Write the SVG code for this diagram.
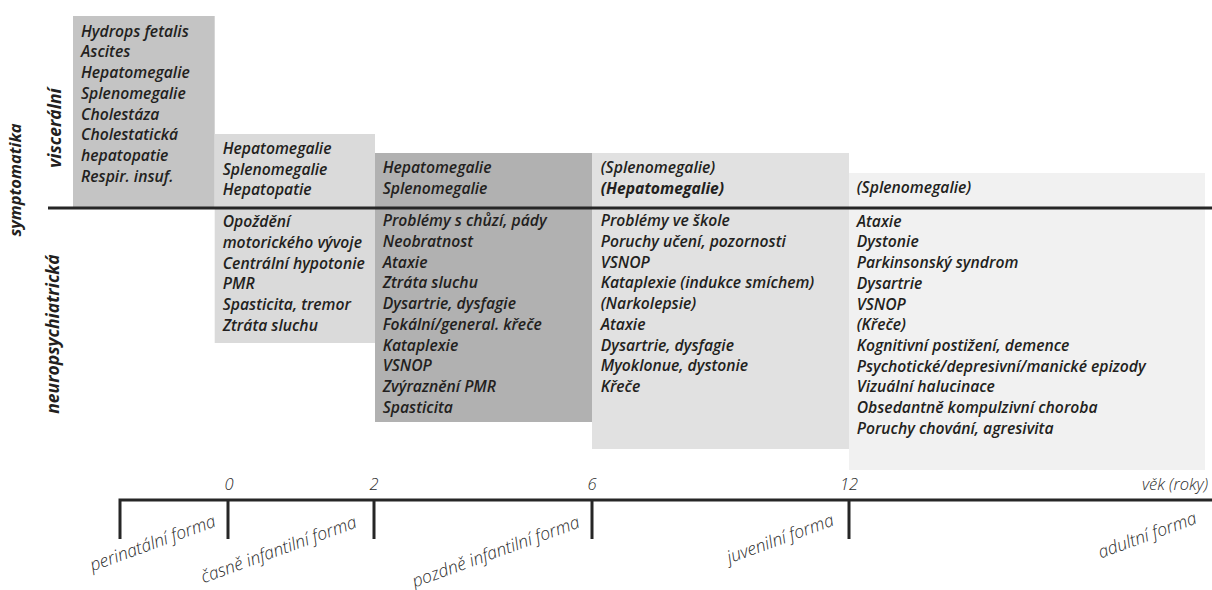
<svg xmlns="http://www.w3.org/2000/svg" width="1212" height="590" viewBox="0 0 1212 590">
<style>
.t{font-family:"Open Sans","Noto Sans","Liberation Sans",sans-serif;font-style:italic;font-weight:600;font-size:15.7px;fill:#231f20}
.b{font-weight:700}
.lab{font-family:"Open Sans","Noto Sans","Liberation Sans",sans-serif;font-style:italic;font-weight:700;font-size:17.5px;fill:#231f20}
.ax{font-family:"Open Sans","Noto Sans","Liberation Sans",sans-serif;font-style:italic;font-weight:300;font-size:16.5px;fill:#2b2b2b}
.fm{font-size:17.5px}
.ln{fill:none;stroke:#262626;stroke-width:3}
</style>
<rect width="1212" height="590" fill="#ffffff"/>
<g id="perinatal">
<rect x="73" y="16" width="141.7" height="192" fill="#c4c4c4"/>
<text class="t" x="81" y="36.7"><tspan x="81">Hydrops fetalis</tspan><tspan x="81" dy="20.7">Ascites</tspan><tspan x="81" dy="20.7">Hepatomegalie</tspan><tspan x="81" dy="20.7">Splenomegalie</tspan><tspan x="81" dy="20.7">Cholestáza</tspan><tspan x="81" dy="20.7">Cholestatická</tspan><tspan x="81" dy="20.7">hepatopatie</tspan><tspan x="81" dy="20.7">Respir. insuf.</tspan></text>
</g>
<g id="early-infantile">
<rect x="214.7" y="134" width="160.3" height="209" fill="#dadada"/>
<text class="t" x="222.7" y="154"><tspan x="222.7">Hepatomegalie</tspan><tspan x="222.7" dy="20.7">Splenomegalie</tspan><tspan x="222.7" dy="20.7">Hepatopatie</tspan></text>
<text class="t" x="222.7" y="227.3"><tspan x="222.7">Opoždění</tspan><tspan x="222.7" dy="20.7">motorického vývoje</tspan><tspan x="222.7" dy="20.7">Centrální hypotonie</tspan><tspan x="222.7" dy="20.7">PMR</tspan><tspan x="222.7" dy="20.7">Spasticita, tremor</tspan><tspan x="222.7" dy="20.7">Ztráta sluchu</tspan></text>
</g>
<g id="late-infantile">
<rect x="375" y="153" width="217" height="269" fill="#b1b1b1"/>
<text class="t" x="382.7" y="173.3"><tspan x="382.7">Hepatomegalie</tspan><tspan x="382.7" dy="20.7">Splenomegalie</tspan></text>
<text class="t" x="382.7" y="226.3"><tspan x="382.7">Problémy s chůzí, pády</tspan><tspan x="382.7" dy="20.7">Neobratnost</tspan><tspan x="382.7" dy="20.7">Ataxie</tspan><tspan x="382.7" dy="20.7">Ztráta sluchu</tspan><tspan x="382.7" dy="20.7">Dysartrie, dysfagie</tspan><tspan x="382.7" dy="20.7">Fokální/general. křeče</tspan><tspan x="382.7" dy="20.7">Kataplexie</tspan><tspan x="382.7" dy="20.7">VSNOP</tspan><tspan x="382.7" dy="20.7">Zvýraznění PMR</tspan><tspan x="382.7" dy="20.7">Spasticita</tspan></text>
</g>
<g id="juvenile">
<rect x="592" y="153" width="257" height="296" fill="#e1e1e1"/>
<text class="t" x="600.7" y="173.3"><tspan x="600.7">(Splenomegalie)</tspan><tspan class="b" x="600.7" dy="20.7">(Hepatomegalie)</tspan></text>
<text class="t" x="600.7" y="226.3"><tspan x="600.7">Problémy ve škole</tspan><tspan x="600.7" dy="20.7">Poruchy učení, pozornosti</tspan><tspan x="600.7" dy="20.7">VSNOP</tspan><tspan x="600.7" dy="20.7">Kataplexie (indukce smíchem)</tspan><tspan x="600.7" dy="20.7">(Narkolepsie)</tspan><tspan x="600.7" dy="20.7">Ataxie</tspan><tspan x="600.7" dy="20.7">Dysartrie, dysfagie</tspan><tspan x="600.7" dy="20.7">Myoklonue, dystonie</tspan><tspan x="600.7" dy="20.7">Křeče</tspan></text>
</g>
<g id="adult">
<rect x="849" y="173" width="356" height="297" fill="#f1f1f1"/>
<text class="t" x="856.7" y="193"><tspan x="856.7">(Splenomegalie)</tspan></text>
<text class="t" x="856.7" y="226.7"><tspan x="856.7">Ataxie</tspan><tspan x="856.7" dy="20.7">Dystonie</tspan><tspan x="856.7" dy="20.7">Parkinsonský syndrom</tspan><tspan x="856.7" dy="20.7">Dysartrie</tspan><tspan x="856.7" dy="20.7">VSNOP</tspan><tspan x="856.7" dy="20.7">(Křeče)</tspan><tspan x="856.7" dy="20.7">Kognitivní postižení, demence</tspan><tspan x="856.7" dy="20.7">Psychotické/depresivní/manické epizody</tspan><tspan x="856.7" dy="20.7">Vizuální halucinace</tspan><tspan x="856.7" dy="20.7">Obsedantně kompulzivní choroba</tspan><tspan x="856.7" dy="20.7">Poruchy chování, agresivita</tspan></text>
</g>
<g id="connectors">
<line class="ln" x1="48" y1="208" x2="1212" y2="208" stroke-width="2.6"/>
<path class="ln" d="M120,539 V500 H1212"/>
<path class="ln" d="M228,500 V539 M374,500 V539 M592,500 V539 M849,500 V539"/>
</g>
<g id="side-labels">
<text class="lab" text-anchor="middle" transform="translate(21,180) rotate(-90)" style="font-size:16.5px">symptomatika</text>
<text class="lab" text-anchor="middle" transform="translate(61,128) rotate(-90)">viscerální</text>
<text class="lab" text-anchor="middle" transform="translate(59,334) rotate(-90)">neuropsychiatrická</text>
</g>
<g id="axis-labels">
<text class="ax" x="229" y="490" text-anchor="middle">0</text>
<text class="ax" x="374" y="490" text-anchor="middle">2</text>
<text class="ax" x="592" y="490" text-anchor="middle">6</text>
<text class="ax" x="849" y="490" text-anchor="middle">12</text>
<text class="ax" x="1208" y="490" text-anchor="end">věk (roky)</text>
<text class="ax fm" text-anchor="end" transform="translate(217,526) rotate(-20)">perinatální forma</text>
<text class="ax fm" text-anchor="end" transform="translate(358,527) rotate(-20)">časně infantilní forma</text>
<text class="ax fm" text-anchor="end" transform="translate(581,527) rotate(-20)">pozdně infantilní forma</text>
<text class="ax fm" text-anchor="end" transform="translate(835,525) rotate(-20)">juvenilní forma</text>
<text class="ax fm" text-anchor="end" transform="translate(1198,523) rotate(-20)">adultní forma</text>
</g>
</svg>
